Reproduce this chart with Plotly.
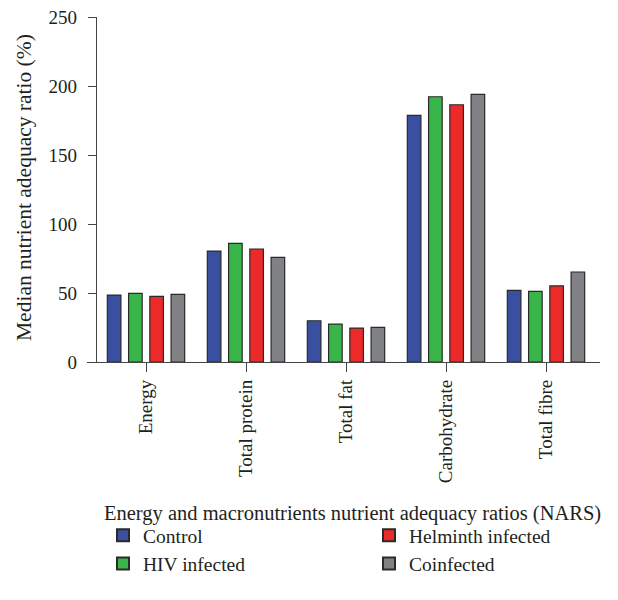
import plotly.graph_objects as go

categories = ["Energy", "Total protein", "Total fat", "Carbohydrate", "Total fibre"]
control = [48.5, 80.4, 29.9, 178.7, 51.9]
hiv = [49.7, 85.9, 27.5, 192.2, 51.2]
helminth = [47.5, 81.9, 24.6, 186.4, 55.1]
coinfected = [49.0, 75.8, 25.1, 193.9, 65.2]

series = [
    ("Control", control, "#3A4FA0", "legend"),
    ("HIV infected", hiv, "#3AB54A", "legend"),
    ("Helminth infected", helminth, "#EC2A2A", "legend2"),
    ("Coinfected", coinfected, "#818286", "legend2"),
]

FONT = "Liberation Serif, Times New Roman, serif"
# page offset from default body margin
OFF = 8
L, T = 87 - OFF, 17 - OFF
PLOT_W, PLOT_H = 513, 345
W, H = 618, 600


def px(xpage):
    return (xpage - OFF - L) / PLOT_W


def py(ypage):
    return 1 - (ypage - OFF - T) / PLOT_H


fig = go.Figure()
for name, vals, color, leg in series:
    fig.add_trace(go.Bar(
        x=list(range(len(categories))), y=vals, name=name,
        marker=dict(color=color, line=dict(color="#2a2a2a", width=1.2)),
        legend=leg,
    ))

legend_common = dict(
    orientation="v", yanchor="top",
    font=dict(family=FONT, size=19.5, color="#231f20"),
    tracegroupgap=0, itemsizing="constant", bgcolor="rgba(0,0,0,0)",
)

fig.update_layout(
    width=W, height=H,
    margin=dict(l=L, r=W - L - PLOT_W, t=T, b=H - T - PLOT_H, autoexpand=False),
    paper_bgcolor="white", plot_bgcolor="white",
    font=dict(family=FONT, size=19, color="#231f20"),
    barmode="group", bargap=0.15, bargroupgap=0.36,
    showlegend=True,
    legend=dict(x=px(103), xanchor="left", y=py(516), **legend_common),
    legend2=dict(x=px(369), xanchor="left", y=py(516), **legend_common),
    xaxis=dict(
        range=[-0.59, 4.54], tickmode="array",
        tickvals=list(range(len(categories))), ticktext=categories,
        tickangle=-90, ticks="outside", ticklen=9, tickcolor="#444",
        showline=True, linecolor="#444", linewidth=1.3,
        showgrid=False, zeroline=False, automargin=False,
        tickfont=dict(family=FONT, size=19),
    ),
    yaxis=dict(
        range=[0, 250], tickvals=[0, 50, 100, 150, 200, 250],
        anchor="free", position=9 / PLOT_W,
        ticks="outside", ticklen=8, tickcolor="#444",
        showline=True, linecolor="#444", linewidth=1.3,
        showgrid=False, zeroline=False, automargin=False,
        ticklabeloverflow="allow", ticklabelstandoff=7,
        tickfont=dict(family=FONT, size=19),
    ),
    annotations=[
        dict(
            text="Energy and macronutrients nutrient adequacy ratios (NARS)",
            xref="paper", yref="paper", x=px(352), y=py(513),
            xanchor="center", yanchor="middle", showarrow=False,
            font=dict(family=FONT, size=20.5),
        ),
        dict(
            text="Median nutrient adequacy ratio (%)",
            xref="paper", yref="paper", x=px(24), y=py(188),
            xanchor="center", yanchor="middle", showarrow=False, textangle=-90,
            font=dict(family=FONT, size=21.5),
        ),
    ],
)

fig.write_html("out.html")
